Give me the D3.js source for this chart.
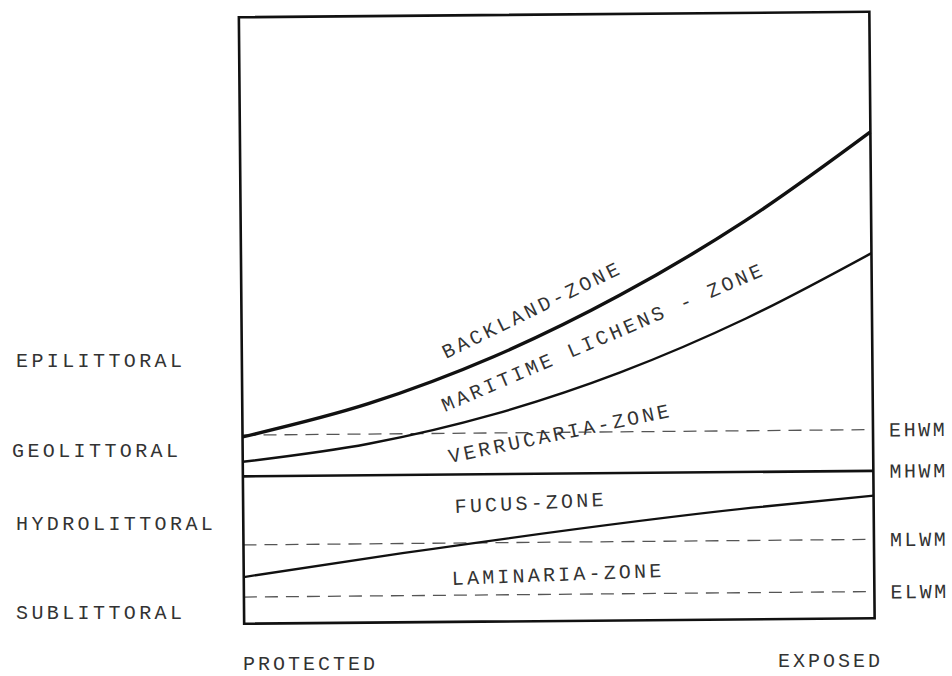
<!DOCTYPE html>
<html>
<head>
<meta charset="utf-8">
<script src="https://cdn.jsdelivr.net/npm/d3@7"></script>
<style>
  html, body { margin: 0; padding: 0; background: #fff; }
  svg { display: block; }
  text { font-family: "Courier New", Courier, "Nimbus Mono PS", FreeMono, "Liberation Mono", monospace; fill: #333; }
</style>
</head>
<body>
<script>
// ---------- data (x: % from protected to exposed, y: relative shore level, box = 0..100) ----------
const xPos          = [0, 20, 40, 60, 80, 100];
const backlandLower = [30.8, 36.1, 43.7, 53.6, 65.7, 80.2];   // upper limit of maritime lichens
const lichensLower  = [26.7, 29.5, 34.2, 40.9, 49.6, 60.2];   // upper limit of verrucaria
const fucusX        = [0, 25.2, 80.8, 100];
const fucusLower    = [7.7, 11.4, 18.4, 20.2];                // upper limit of laminaria
const tideNames     = ["EHWM", "MHWM", "MLWM", "ELWM"];
const tideLevels    = [31.1, 24.3, 13.0, 4.4];
const tideDashed    = [true, false, true, true];
const beltNames     = ["EPILITTORAL", "GEOLITTORAL", "HYDROLITTORAL", "SUBLITTORAL"];
const zoneNames     = ["BACKLAND-ZONE", "MARITIME LICHENS - ZONE", "VERRUCARIA-ZONE", "FUCUS-ZONE", "LAMINARIA-ZONE"];
const exposureNames = ["PROTECTED", "EXPOSED"];

// ---------- layout ----------
const W = 952, H = 676;
const box = { left: 241.5, right: 872, top: 14.5, bottom: 621 };
const cx = (box.left + box.right) / 2, cy = (box.top + box.bottom) / 2;
const tilt = -0.5;   // scan tilt of the original drawing
const FS = 20, LS = 3.2;

const svg = d3.select("body").append("svg").attr("width", W).attr("height", H);

const x = d3.scaleLinear().domain([0, 100]).range([box.left, box.right]);
const y = d3.scaleLinear().domain([0, 100]).range([box.bottom, box.top]);

const g = svg.append("g").attr("transform", `rotate(${tilt},${cx},${cy})`);

// tide lines
const tides = tideNames.map((n, i) => ({ name: n, level: tideLevels[i], dashed: tideDashed[i] }));
g.selectAll("line.tide").data(tides).join("line")
  .attr("class", "tide")
  .attr("x1", x(0)).attr("x2", x(100))
  .attr("y1", d => y(d.level)).attr("y2", d => y(d.level))
  .attr("stroke", d => d.dashed ? "#555" : "#111")
  .attr("stroke-width", d => d.dashed ? 1.3 : 2.6)
  .attr("stroke-dasharray", d => d.dashed ? "13,8" : null);

// zone boundary curves
const line = d3.line().x(d => x(d[0])).y(d => y(d[1])).curve(d3.curveMonotoneX);
const curves = [
  { pts: xPos.map((v, i) => [v, backlandLower[i]]), w: 3.4 },
  { pts: xPos.map((v, i) => [v, lichensLower[i]]), w: 2.4 },
  { pts: fucusX.map((v, i) => [v, fucusLower[i]]), w: 2.3 }
];
g.selectAll("path.zone").data(curves).join("path")
  .attr("class", "zone")
  .attr("d", d => line(d.pts))
  .attr("fill", "none").attr("stroke", "#111").attr("stroke-width", d => d.w);

// frame
g.append("rect")
  .attr("x", x(0)).attr("y", y(100))
  .attr("width", x(100) - x(0)).attr("height", y(0) - y(100))
  .attr("fill", "none").attr("stroke", "#111").attr("stroke-width", 2.6);

// right-hand tide labels
g.selectAll("text.tide").data(tides).join("text")
  .attr("class", "tide")
  .attr("x", x(100) + 16)
  .attr("y", d => y(d.level) + 7)
  .attr("font-size", FS).attr("letter-spacing", 2.6)
  .text(d => d.name);

// zone labels (baseline start and slant)
const zoneLayout = [
  { x: 446, y: 359, a: -26 },
  { x: 445, y: 412, a: -23.2 },
  { x: 450, y: 463, a: -11.8 },
  { x: 455, y: 513, a: -2.7 },
  { x: 452, y: 585, a: -2.2 }
];
svg.selectAll("text.zonelbl").data(zoneNames).join("text")
  .attr("class", "zonelbl")
  .attr("transform", (d, i) => `translate(${zoneLayout[i].x},${zoneLayout[i].y}) rotate(${zoneLayout[i].a})`)
  .attr("font-size", FS).attr("letter-spacing", LS)
  .text(d => d);

// left-hand belt labels
const beltLayout = [{ x: 16, y: 367 }, { x: 12, y: 457 }, { x: 16, y: 530 }, { x: 16, y: 619 }];
svg.selectAll("text.belt").data(beltNames).join("text")
  .attr("class", "belt")
  .attr("x", (d, i) => beltLayout[i].x).attr("y", (d, i) => beltLayout[i].y)
  .attr("font-size", FS).attr("letter-spacing", 3.4)
  .text(d => d);

// exposure labels
const expLayout = [{ x: 243, y: 670 }, { x: 778, y: 667 }];
svg.selectAll("text.exp").data(exposureNames).join("text")
  .attr("class", "exp")
  .attr("x", (d, i) => expLayout[i].x).attr("y", (d, i) => expLayout[i].y)
  .attr("font-size", FS).attr("letter-spacing", 3)
  .text(d => d);
</script>
</body>
</html>
